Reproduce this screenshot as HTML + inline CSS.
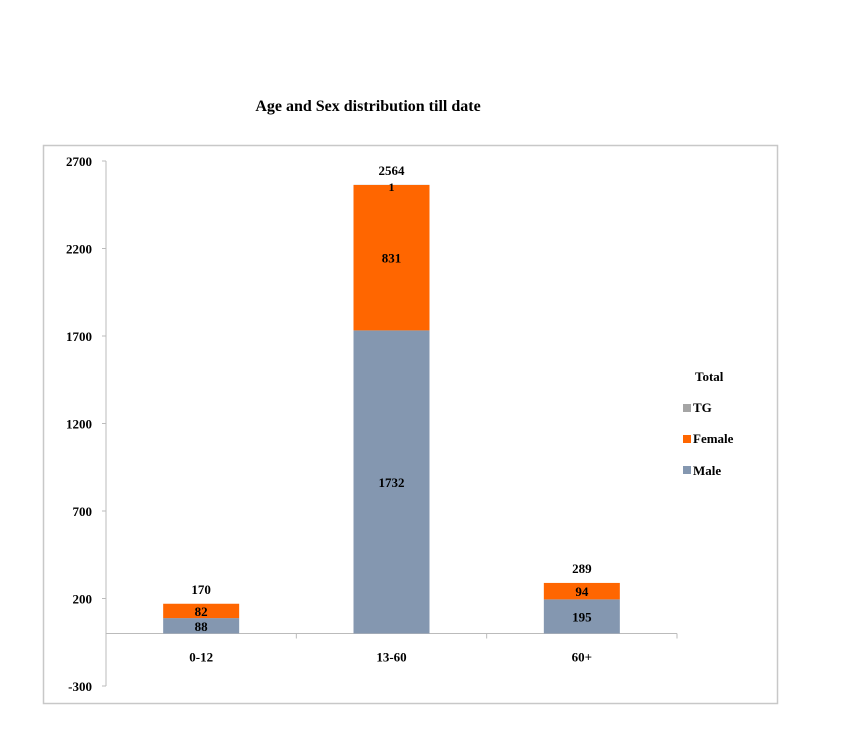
<!DOCTYPE html>
<html><head><meta charset="utf-8"><style>
body{margin:0;background:#fff;}
svg text{font-family:"Liberation Serif",serif;font-weight:bold;fill:#000;}
</style></head><body>
<svg id="chart" width="841" height="735" xmlns="http://www.w3.org/2000/svg">
<text x="368" y="111" text-anchor="middle" font-size="16">Age and Sex distribution till date</text>
<rect x="43.5" y="145.5" width="734" height="558" fill="none" stroke="#c8c8c8" stroke-width="1.5"/>
<g id="axes"></g>
<g id="bars"></g>
<g>
<text x="695" y="381" font-size="13">Total</text>
<rect x="683" y="404" width="8" height="8" fill="#a5a5a5"/>
<text x="693" y="412" font-size="13">TG</text>
<rect x="683" y="435" width="8" height="8" fill="#ff6600"/>
<text x="693" y="443" font-size="13">Female</text>
<rect x="683" y="466" width="8" height="8" fill="#8497b0"/>
<text x="693" y="475" font-size="13">Male</text>
</g>
</svg>
<script>
const categories = ["0-12", "13-60", "60+"];
const maleValues = [88, 1732, 195];
const femaleValues = [82, 831, 94];
const tgValues = [0, 1, 0];
const totalValues = [170, 2564, 289];
const yTicks = [2700, 2200, 1700, 1200, 700, 200, -300];

const NS = "http://www.w3.org/2000/svg";
const yMin = -300, yMax = 2700, pxTop = 161, pxBottom = 686;
const xLeft = 106, xRight = 677;
function y(v){ return pxBottom - (v - yMin) / (yMax - yMin) * (pxBottom - pxTop); }
function xc(i){ const w = (xRight - xLeft) / categories.length; return xLeft + w * (i + 0.5); }
function mk(tag, attrs, parent){ const e = document.createElementNS(NS, tag); for (const k in attrs) e.setAttribute(k, attrs[k]); parent.appendChild(e); return e; }

const axes = document.getElementById("axes");
const yAxis = mk("line", {x1: xLeft, x2: xLeft, y1: pxTop, y2: pxBottom, stroke: "#bbb"}, axes);


yTicks.forEach(t => {
  const tk = mk("line", {x1: xLeft - 4, x2: xLeft, y1: y(t), y2: y(t), stroke: "#bbb"}, axes);
  
  
  const lb = mk("text", {x: 92, y: y(t) + 5, "text-anchor": "end", "font-size": "13"}, axes);
  
  
  lb.textContent = t;
});
const xAxis = mk("line", {x1: xLeft, x2: xRight, y1: y(0), y2: y(0), stroke: "#bbb"}, axes);


for (let i = 0; i <= categories.length; i++) {
  const xx = xLeft + (xRight - xLeft) / categories.length * i;
  const tk = mk("line", {x1: xx, x2: xx, y1: y(0), y2: y(0) + 5, stroke: "#bbb"}, axes);
  
  
}
categories.forEach((c, i) => {
  const lb = mk("text", {x: xc(i), y: y(0) + 28, "text-anchor": "middle", "font-size": "13"}, axes);
  
  
  lb.textContent = c;
});

const bars = document.getElementById("bars");
const bw = 76;
categories.forEach((c, i) => {
  const x0 = xc(i) - bw / 2;
  const m = maleValues[i], f = femaleValues[i], t = tgValues[i];
  const rm = mk("rect", {x: x0, y: y(m), width: bw, height: y(0) - y(m), fill: "#8497b0"}, bars);
  
  
  const rf = mk("rect", {x: x0, y: y(m + f), width: bw, height: y(m) - y(m + f), fill: "#ff6600"}, bars);
  
  
  const rt = mk("rect", {x: x0, y: y(m + f + t), width: bw, height: y(m + f) - y(m + f + t), fill: "#a5a5a5"}, bars);
  
  
  const lm = mk("text", {x: xc(i), y: (y(0) + y(m)) / 2 + 5, "text-anchor": "middle", "font-size": "13"}, bars);
  
  
  lm.textContent = m;
  const lf = mk("text", {x: xc(i), y: (y(m) + y(m + f)) / 2 + 5, "text-anchor": "middle", "font-size": "13"}, bars);
  
  
  lf.textContent = f;
  if (t > 0) {
    const lt = mk("text", {x: xc(i), y: y(m + f + t) + 6, "text-anchor": "middle", "font-size": "12"}, bars);
    
    
    lt.textContent = t;
  }
  const ltot = mk("text", {x: xc(i), y: y(totalValues[i]) - 10, "text-anchor": "middle", "font-size": "13"}, bars);
  
  
  ltot.textContent = totalValues[i];
});
</script>
</body></html>
